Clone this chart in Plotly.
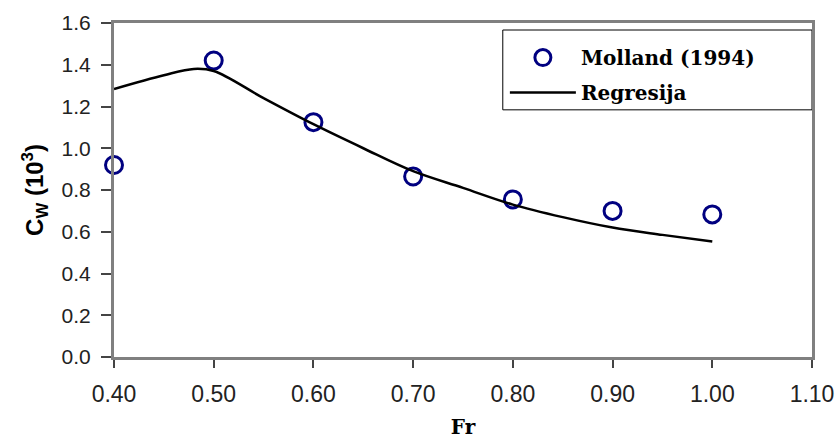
import plotly.graph_objects as go

fr_data = [0.40, 0.50, 0.60, 0.70, 0.80, 0.90, 1.00]
cw_data = [0.92, 1.42, 1.125, 0.865, 0.755, 0.70, 0.683]

fr_reg = [0.40, 0.45, 0.48, 0.50, 0.55, 0.60, 0.65, 0.70, 0.75, 0.80, 0.85, 0.90, 0.95, 1.00]
cw_reg = [1.284, 1.35, 1.38, 1.37, 1.24, 1.115, 1.0, 0.89, 0.81, 0.73, 0.67, 0.62, 0.585, 0.553]

x_ticks = [0.40, 0.50, 0.60, 0.70, 0.80, 0.90, 1.00, 1.10]
y_ticks = [0.0, 0.2, 0.4, 0.6, 0.8, 1.0, 1.2, 1.4, 1.6]

fig = go.Figure()
fig.add_trace(go.Scatter(
    x=fr_data, y=cw_data, mode="markers", name="<b>Molland (1994)</b>",
    legendgroup="a",
    marker=dict(symbol="circle-open", size=17, color="#000080", line=dict(width=3, color="#000080")),
    cliponaxis=False,
))
fig.add_trace(go.Scatter(
    x=fr_reg, y=cw_reg, mode="lines", name="<b>Regresija</b>",
    legendgroup="b",
    line=dict(color="black", width=2.5, shape="spline", smoothing=1.0),
))

fig.update_layout(
    width=840, height=439,
    margin=dict(l=114, r=28, t=23, b=82),
    paper_bgcolor="white", plot_bgcolor="white",
    showlegend=True,
    legend=dict(
        x=0.560, y=0.955, xanchor="left", yanchor="top",
        bgcolor="rgba(0,0,0,0)", borderwidth=0,
        font=dict(family="DejaVu Serif", size=20, color="black"),
        itemwidth=66, tracegroupgap=6, traceorder="grouped",
    ),
    shapes=[dict(
        type="rect", xref="paper", yref="paper",
        x0=0.557, x1=1.0, y0=0.740, y1=0.979,
        line=dict(color="black", width=1), fillcolor="white", layer="below",
    )],
    xaxis=dict(
        range=[0.40, 1.10], tickvals=x_ticks, ticktext=[f"{v:.2f}" for v in x_ticks],
        showgrid=False, zeroline=False, automargin=False,
        showline=True, linecolor="#808080", linewidth=3, mirror=True,
        ticks="outside", ticklen=8, tickcolor="#444444", tickwidth=1.5,
        ticklabelstandoff=6,
        tickfont=dict(family="Liberation Sans", size=23, color="#222222"),
        title=dict(text="<b>Fr</b>", font=dict(family="DejaVu Serif", size=20, color="black"), standoff=18),
    ),
    yaxis=dict(
        range=[0.0, 1.6], tickvals=y_ticks, ticktext=[f"{v:.1f}" for v in y_ticks],
        showgrid=False, zeroline=False, automargin=False,
        showline=True, linecolor="#808080", linewidth=3, mirror=True,
        ticks="outside", ticklen=10, tickcolor="#444444", tickwidth=1.5,
        ticklabelstandoff=6,
        tickfont=dict(family="Liberation Sans", size=21, color="#222222"),
        title=dict(text="<b>C<sub>W</sub> (10<sup>3</sup>)</b>", font=dict(family="Liberation Sans", size=24, color="black"), standoff=12),
    ),
)

fig.write_html("out.html")
